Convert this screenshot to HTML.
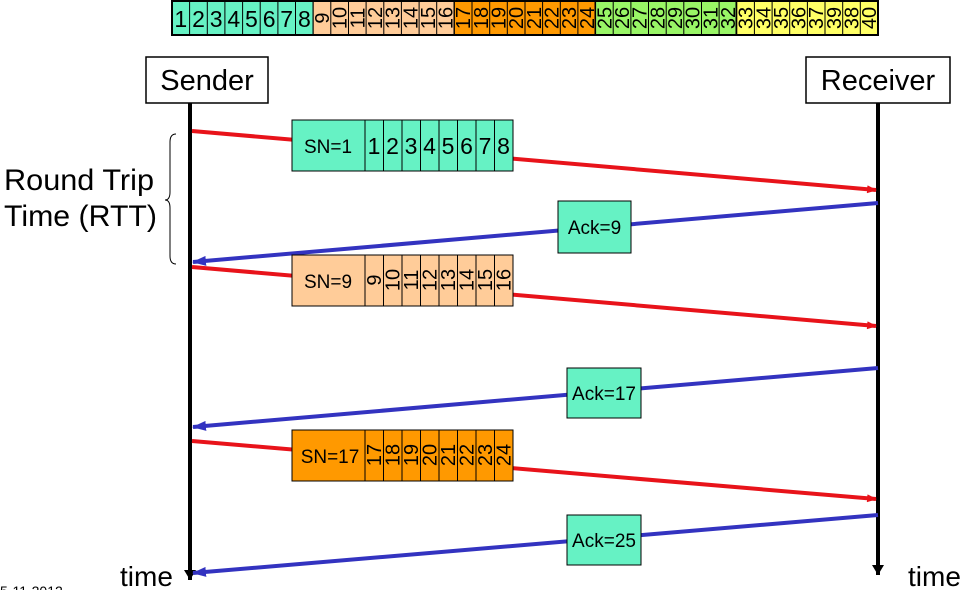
<!DOCTYPE html>
<html><head><meta charset="utf-8"><style>
body{margin:0;background:#fff}
svg{display:block;font-family:"Liberation Sans",Arial,sans-serif}
</style></head><body>
<svg width="976" height="590" viewBox="0 0 976 590" xmlns="http://www.w3.org/2000/svg">
<defs>
<marker id="ar" markerWidth="10" markerHeight="8" refX="9" refY="4" orient="auto" markerUnits="userSpaceOnUse"><path d="M0,0 L10,4 L0,8 Z" fill="#e8131a"/></marker>
<marker id="ab" markerWidth="14" markerHeight="10" refX="13" refY="5" orient="auto" markerUnits="userSpaceOnUse"><path d="M0,0 L14,5 L0,10 Z" fill="#3333c0"/></marker>
<marker id="ak" markerWidth="12" markerHeight="10" refX="6" refY="10" orient="0" markerUnits="userSpaceOnUse"><path d="M0,0 L12,0 L6,10 Z" fill="#000"/></marker>
</defs>
<g stroke="#000" stroke-width="1">
<rect x="172" y="1" width="141" height="34" fill="#66f2c4"/>
<rect x="313" y="1" width="141" height="34" fill="#ffcc99"/>
<rect x="454" y="1" width="141" height="34" fill="#ff9900"/>
<rect x="595" y="1" width="141" height="34" fill="#99f566"/>
<rect x="736" y="1" width="142" height="34" fill="#ffff66"/>
</g>
<g stroke="#000" stroke-width="1">
<path d="M189.6,1V35M207.3,1V35M224.9,1V35M242.6,1V35M260.2,1V35M277.9,1V35M295.5,1V35M313.2,1V35M330.8,1V35M348.5,1V35M366.1,1V35M383.8,1V35M401.4,1V35M419.1,1V35M436.7,1V35M454.4,1V35M472,1V35M489.7,1V35M507.3,1V35M525,1V35M542.6,1V35M560.3,1V35M577.9,1V35M595.6,1V35M613.2,1V35M630.9,1V35M648.5,1V35M666.2,1V35M683.8,1V35M701.5,1V35M719.1,1V35M736.8,1V35M754.4,1V35M772.1,1V35M789.7,1V35M807.4,1V35M825,1V35M842.7,1V35M860.3,1V35"/>
<rect x="172" y="1" width="706" height="34" fill="none" stroke-width="2"/>
</g>
<g font-size="23" text-anchor="middle" fill="#000">
<text x="180.8" y="27">1</text><text x="198.5" y="27">2</text><text x="216.1" y="27">3</text><text x="233.8" y="27">4</text><text x="251.4" y="27">5</text><text x="269.1" y="27">6</text><text x="286.7" y="27">7</text><text x="304.4" y="27">8</text>
</g>
<g font-size="20" fill="#000" text-anchor="middle">
<text transform="translate(329,18) rotate(-90)">9</text>
<text transform="translate(346.7,18) rotate(-90)">10</text>
<text transform="translate(364.3,18) rotate(-90)">11</text>
<text transform="translate(382,18) rotate(-90)">12</text>
<text transform="translate(399.6,18) rotate(-90)">13</text>
<text transform="translate(417.3,18) rotate(-90)">14</text>
<text transform="translate(434.9,18) rotate(-90)">15</text>
<text transform="translate(452.6,18) rotate(-90)">16</text>
<text transform="translate(470.2,18) rotate(-90)">17</text>
<text transform="translate(487.9,18) rotate(-90)">18</text>
<text transform="translate(505.5,18) rotate(-90)">19</text>
<text transform="translate(523.2,18) rotate(-90)">20</text>
<text transform="translate(540.8,18) rotate(-90)">21</text>
<text transform="translate(558.5,18) rotate(-90)">22</text>
<text transform="translate(576.1,18) rotate(-90)">23</text>
<text transform="translate(593.8,18) rotate(-90)">24</text>
<text transform="translate(611.4,18) rotate(-90)">25</text>
<text transform="translate(629.1,18) rotate(-90)">26</text>
<text transform="translate(646.7,18) rotate(-90)">27</text>
<text transform="translate(664.4,18) rotate(-90)">28</text>
<text transform="translate(682,18) rotate(-90)">29</text>
<text transform="translate(699.7,18) rotate(-90)">30</text>
<text transform="translate(717.3,18) rotate(-90)">31</text>
<text transform="translate(735,18) rotate(-90)">32</text>
<text transform="translate(752.6,18) rotate(-90)">33</text>
<text transform="translate(770.3,18) rotate(-90)">34</text>
<text transform="translate(787.9,18) rotate(-90)">35</text>
<text transform="translate(805.6,18) rotate(-90)">36</text>
<text transform="translate(823.2,18) rotate(-90)">37</text>
<text transform="translate(840.9,18) rotate(-90)">39</text>
<text transform="translate(858.5,18) rotate(-90)">38</text>
<text transform="translate(876.2,18) rotate(-90)">40</text>
</g>

<line x1="190" y1="103" x2="190" y2="580" stroke="#000" stroke-width="4" marker-end="url(#ak)"/>
<line x1="878" y1="103" x2="878" y2="575" stroke="#000" stroke-width="4" marker-end="url(#ak)"/>
<rect x="146" y="57" width="122" height="46" fill="#fff" stroke="#000" stroke-width="1.5"/>
<text x="207" y="90" font-size="29" text-anchor="middle">Sender</text>
<rect x="806" y="57" width="144" height="46" fill="#fff" stroke="#000" stroke-width="1.5"/>
<text x="878" y="90" font-size="29" text-anchor="middle">Receiver</text>

<text x="4" y="190" font-size="30" textLength="150" lengthAdjust="spacingAndGlyphs">Round Trip</text>
<text x="4" y="226" font-size="30" textLength="153" lengthAdjust="spacingAndGlyphs">Time (RTT)</text>
<path d="M176,134 Q170,134 170,142 L170,192 Q170,200 165,200 Q170,200 170,208 L170,256 Q170,264 176,264" fill="none" stroke="#000" stroke-width="1"/>

<g stroke-width="4" fill="none">
<line x1="192" y1="131" x2="876" y2="190" stroke="#e8131a" marker-end="url(#ar)"/>
<line x1="878" y1="203" x2="193" y2="262" stroke="#3333c0" marker-end="url(#ab)"/>
<line x1="192" y1="267" x2="876" y2="326" stroke="#e8131a" marker-end="url(#ar)"/>
<line x1="878" y1="368" x2="193" y2="427" stroke="#3333c0" marker-end="url(#ab)"/>
<line x1="192" y1="441" x2="876" y2="499" stroke="#e8131a" marker-end="url(#ar)"/>
<line x1="878" y1="515" x2="193" y2="573" stroke="#3333c0" marker-end="url(#ab)"/>
</g>

<g stroke="#000" stroke-width="1">
<rect x="292" y="120" width="221" height="51" fill="#66f2c4"/>
<path d="M365,120V171M383.5,120V171M402,120V171M420.5,120V171M439,120V171M457.5,120V171M476,120V171M494.5,120V171"/>
<rect x="292" y="255" width="221" height="51" fill="#ffcc99"/>
<path d="M365,255V306M383.5,255V306M402,255V306M420.5,255V306M439,255V306M457.5,255V306M476,255V306M494.5,255V306"/>
<rect x="292" y="430" width="221" height="51" fill="#ff9900"/>
<path d="M365,430V481M383.5,430V481M402,430V481M420.5,430V481M439,430V481M457.5,430V481M476,430V481M494.5,430V481"/>
</g>
<g font-size="19" text-anchor="middle">
<text x="328" y="153">SN=1</text>
<text x="328" y="288">SN=9</text>
<text x="330" y="463">SN=17</text>
</g>
<g font-size="23" text-anchor="middle">
<text x="374" y="154">1</text><text x="392.5" y="154">2</text><text x="411" y="154">3</text><text x="429.5" y="154">4</text><text x="448" y="154">5</text><text x="466.5" y="154">6</text><text x="485" y="154">7</text><text x="503.5" y="154">8</text>
</g>
<g font-size="20" text-anchor="middle">
<text transform="translate(381,280) rotate(-90)">9</text>
<text transform="translate(399.5,280) rotate(-90)">10</text>
<text transform="translate(418,280) rotate(-90)">11</text>
<text transform="translate(436.5,280) rotate(-90)">12</text>
<text transform="translate(455,280) rotate(-90)">13</text>
<text transform="translate(473.5,280) rotate(-90)">14</text>
<text transform="translate(492,280) rotate(-90)">15</text>
<text transform="translate(510.5,280) rotate(-90)">16</text>
<text transform="translate(381,455) rotate(-90)">17</text>
<text transform="translate(399.5,455) rotate(-90)">18</text>
<text transform="translate(418,455) rotate(-90)">19</text>
<text transform="translate(436.5,455) rotate(-90)">20</text>
<text transform="translate(455,455) rotate(-90)">21</text>
<text transform="translate(473.5,455) rotate(-90)">22</text>
<text transform="translate(492,455) rotate(-90)">23</text>
<text transform="translate(510.5,455) rotate(-90)">24</text>
</g>

<g stroke="#000" stroke-width="1" fill="#66f2c4">
<rect x="558" y="201" width="73" height="52"/>
<rect x="567" y="368" width="74" height="50"/>
<rect x="567" y="515" width="74" height="50"/>
</g>
<g font-size="19" text-anchor="middle">
<text x="594.5" y="234">Ack=9</text>
<text x="604" y="400">Ack=17</text>
<text x="604" y="547">Ack=25</text>
</g>

<text x="120" y="586" font-size="28">time</text>
<text x="908" y="586" font-size="28">time</text>
<text x="0" y="596" font-size="14">5-11-2012</text>
</svg>
</body></html>
